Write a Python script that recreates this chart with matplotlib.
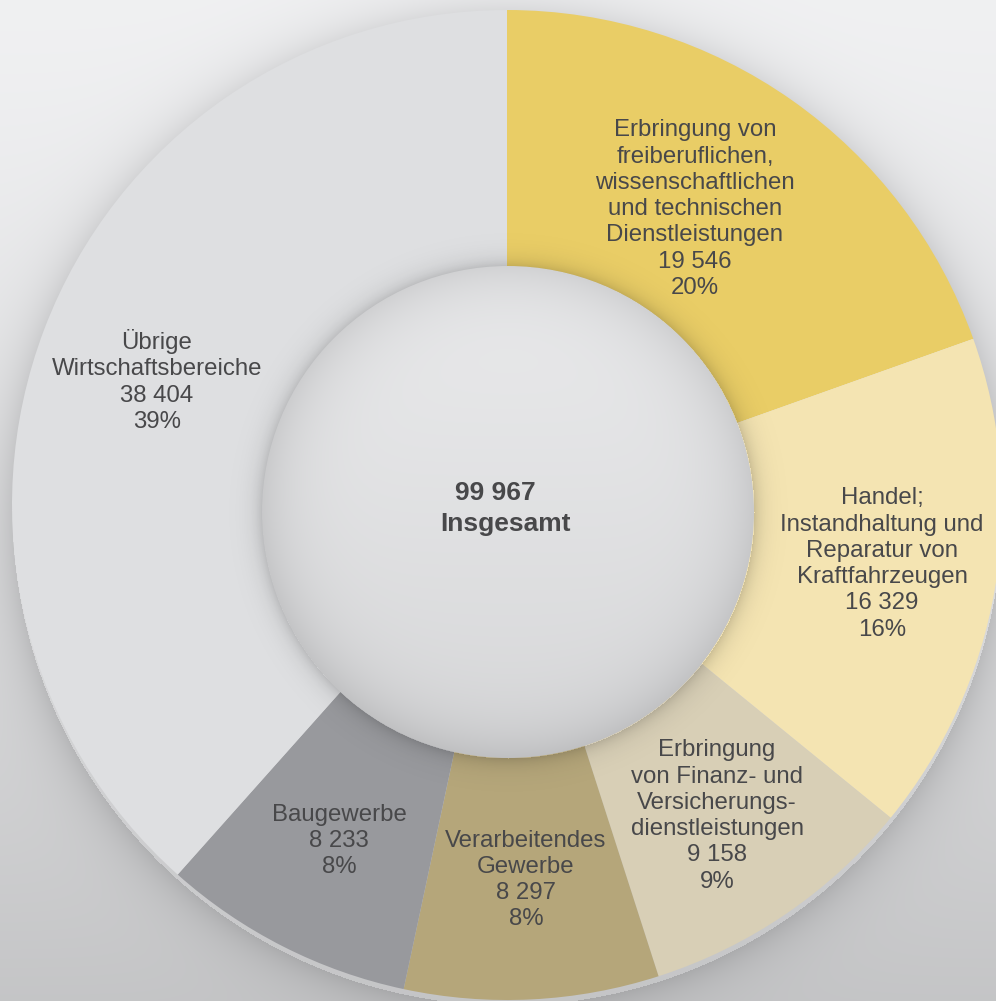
import numpy as np
import matplotlib.pyplot as plt
from matplotlib.patches import Circle

# Data
categories = [
    "Erbringung von\nfreiberuflichen,\nwissenschaftlichen\nund technischen\nDienstleistungen",
    "Handel;\nInstandhaltung und\nReparatur von\nKraftfahrzeugen",
    "Erbringung\nvon Finanz- und\nVersicherungs-\ndienstleistungen",
    "Verarbeitendes\nGewerbe",
    "Baugewerbe",
    "Übrige\nWirtschaftsbereiche",
]
values = [19546, 16329, 9158, 8297, 8233, 38404]
percents = [20, 16, 9, 8, 8, 39]
total = 99967
total_label = "Insgesamt"

colors = ["#E9CD66", "#F4E4B2", "#D8CFB6", "#B5A67A", "#98999D", "#DEDFE1"]
text_color = "#48484a"
font = ['Liberation Sans', 'DejaVu Sans']

# label centres in pixel coords (x, y from top)
label_pos = [(695, 209), (882, 564), (717, 816), (526, 880), (339, 841), (157, 381)]

W, H = 996, 1001
cx, cy = 507, 496          # donut centre (y measured from bottom)
R = 495
Rc = 246                   # centre disc radius
ccx, ccy = 508, H - 512    # centre disc slightly lower


def fmt(v):
    return f"{v:,}".replace(",", " ")


plt.rcParams['font.family'] = font

fig = plt.figure(figsize=(W / 100, H / 100), dpi=100)
ax = fig.add_axes([0, 0, 1, 1])

# background: vertical gradient plus soft shadow around the ring
yy, xx = np.mgrid[0:H, 0:W]
bg = 0.945 - 0.17 * (yy / H) ** 1.3
r_sh = np.hypot(xx - cx, (H - yy) - (cy - 5))
d = r_sh - R
shadow = np.where(d > 0, 0.11 * np.exp(-d / 22.0), 0.0)
bg = bg - shadow
bg_rgb = np.dstack([bg - 0.004, bg - 0.002, bg + 0.004]).clip(0, 1)
ax.imshow(bg_rgb, extent=[0, W, 0, H], origin='upper', zorder=0, interpolation='bilinear')

wedges, _ = ax.pie(values, colors=colors, startangle=90, counterclock=False,
                   radius=R, center=(cx, cy),
                   wedgeprops=dict(width=R - Rc + 20, linewidth=0))
for w in wedges:
    w.set_zorder(1)

# shadow cast by the centre disc onto the ring
ov = np.zeros((H, W, 4))
r_c = np.hypot(xx - ccx, (H - yy) - ccy)
dc = r_c - Rc
ov[..., 3] = np.where(dc > 0, 0.16 * np.exp(-dc / 9.0), 0.0)
ax.imshow(ov, extent=[0, W, 0, H], origin='upper', zorder=2, interpolation='bilinear')

# centre disc with a spherical shading
t = ((H - yy) - (ccy - Rc)) / (2 * Rc)      # 0 at bottom, 1 at top
rr = np.clip(r_c / Rc, 0, 1)
disc = 0.845 + 0.075 * t - 0.095 * rr ** 7
disc_rgb = np.dstack([disc - 0.002, disc, disc + 0.006]).clip(0, 1)
im = ax.imshow(disc_rgb, extent=[0, W, 0, H], origin='upper', zorder=3, interpolation='bilinear')
clip = Circle((ccx, ccy), Rc, transform=ax.transData)
im.set_clip_path(clip)

for name, v, p, (lx, ly) in zip(categories, values, percents, label_pos):
    txt = f"{name}\n{fmt(v)}\n{p}%"
    ax.text(lx, H - ly, txt, ha='center', va='center', multialignment='center',
            fontsize=17.3, color=text_color, linespacing=1.25, family=font, zorder=4)

ax.text(495, H - 493, fmt(total), ha='center', va='center',
        fontsize=19, fontweight='bold', color=text_color, family=font, zorder=4)
ax.text(505, H - 524, total_label, ha='center', va='center',
        fontsize=19, fontweight='bold', color=text_color, family=font, zorder=4)

ax.set_xlim(0, W)
ax.set_ylim(0, H)
ax.set_aspect('auto')
ax.axis('off')

fig.savefig("out.png", dpi=100)
